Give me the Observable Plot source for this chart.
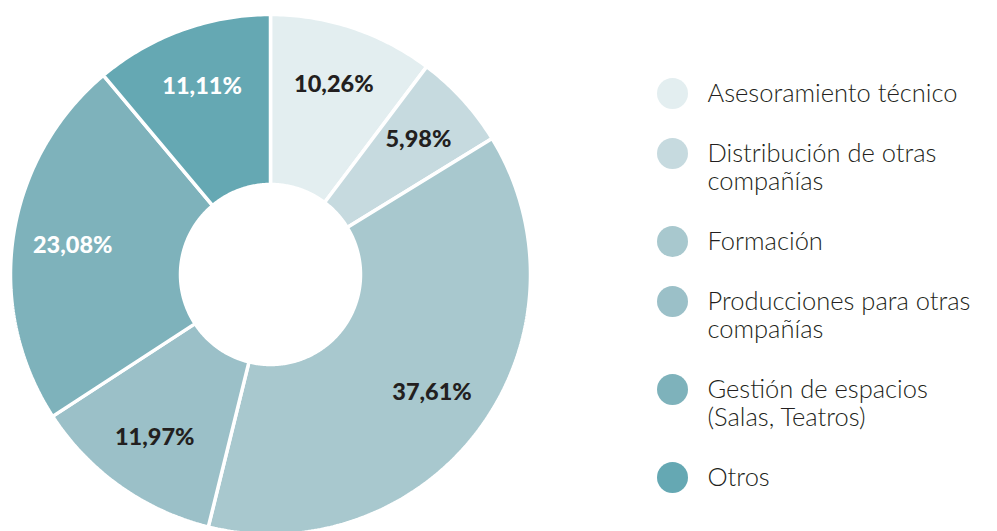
<!DOCTYPE html>
<html>
<head>
<meta charset="utf-8">
<script src="https://cdn.jsdelivr.net/npm/d3@7"></script>
<script src="https://cdn.jsdelivr.net/npm/@observablehq/plot@0.6"></script>
<style>
  html, body { margin: 0; padding: 0; background: #fff; }
  #chart svg { display: block; }
</style>
</head>
<body>
<div id="chart"></div>
<script>
// ---- data ----
const categories = [
  "Asesoramiento técnico",
  "Distribución de otras\ncompañías",
  "Formación",
  "Producciones para otras\ncompañías",
  "Gestión de espacios\n(Salas, Teatros)",
  "Otros"
];
const values = [10.26, 5.98, 37.61, 11.97, 23.08, 11.11];
const valueLabels = ["10,26%", "5,98%", "37,61%", "11,97%", "23,08%", "11,11%"];

// ---- styles ----
const colors = ["#e3eef0", "#c6dadf", "#a8c8ce", "#9bc0c8", "#7eb2bb", "#65a8b3"];
const labelColors = ["#231f20", "#231f20", "#231f20", "#231f20", "#ffffff", "#ffffff"];

const W = 997, H = 531;
const cx = 270, cy = 274;      // pixel centre of the donut
const R = 260, r0 = 90, rLab = 200;
const total = d3.sum(values);

// build slice polygons from the values
const slices = [];
const labels = [];
let acc = 0;
values.forEach((v, i) => {
  const a0 = acc / total * 2 * Math.PI;
  acc += v;
  const a1 = acc / total * 2 * Math.PI;
  const n = Math.max(8, Math.ceil((a1 - a0) * 80));
  for (let k = 0; k <= n; k++) {
    const a = a0 + (a1 - a0) * k / n;
    slices.push({name: categories[i], x: R * Math.sin(a), y: -R * Math.cos(a)});
  }
  for (let k = n; k >= 0; k--) {
    const a = a0 + (a1 - a0) * k / n;
    slices.push({name: categories[i], x: r0 * Math.sin(a), y: -r0 * Math.cos(a)});
  }
  const am = (a0 + a1) / 2;
  labels.push({text: valueLabels[i], x: rLab * Math.sin(am), y: -rLab * Math.cos(am), color: labelColors[i]});
});

// legend entries (positions derived from order and line count)
const legX = 402, legTextX = 437, legY0 = -181, rowGap = 60, lineGap = 28;
let extra = 0;
const legend = categories.map((c, i) => {
  const lines = c.split("\n").length;
  const y = legY0 + i * rowGap + extra * lineGap;
  extra += lines - 1;
  return {name: c, y, textY: y + (lines - 1) * lineGap / 2};
});

const legFont = 25.5;
const chart = Plot.plot({
  width: W,
  height: H,
  margin: 0,
  style: {background: "#fff"},
  x: {domain: [-cx, W - cx], range: [0, W], axis: null},
  y: {domain: [-cy, H - cy], range: [0, H], axis: null},
  color: {domain: categories, range: colors},
  marks: [
    Plot.line(slices, {x: "x", y: "y", z: "name", fill: "name", stroke: "#fff", strokeWidth: 3.5, curve: "linear-closed", strokeLinejoin: "miter"}),
    Plot.text(labels, {x: "x", y: "y", text: "text", fill: d => d.color, fontSize: 23.5, fontWeight: 900, fontFamily: "Lato"}),
    Plot.dot(legend, {x: () => legX, y: "y", r: 15.5, fill: "name", stroke: null}),
    Plot.text(legend, {x: () => legTextX, y: "textY", text: "name", textAnchor: "start", lineAnchor: "middle", lineHeight: lineGap / legFont, fontSize: legFont, fontWeight: 300, fontFamily: "Lato", fill: "#231f20"})
  ]
});
document.getElementById("chart").appendChild(chart);
</script>
</body>
</html>
